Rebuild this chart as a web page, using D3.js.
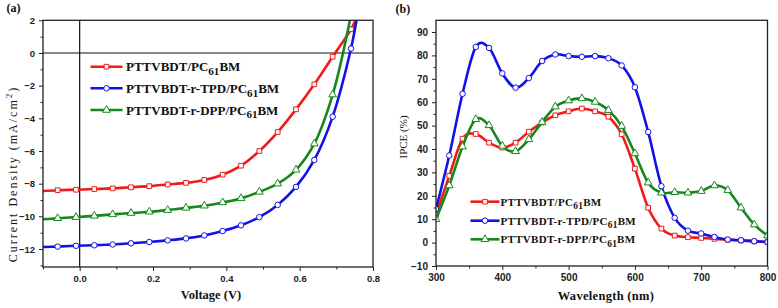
<!DOCTYPE html>
<html lang="en">

<head>
    <meta charset="UTF-8">
    <title>J-V and IPCE</title>
    <script src="https://d3js.org/d3.v7.min.js"></script>
    <style>
        body {
            margin: 0;
            background: #fff;
        }

        svg {
            display: block;
        }

        .tick text {
            font-family: 'Liberation Sans', Arial, sans-serif;
            font-weight: bold;
            font-size: 9.5px;
            fill: #222;
        }

        .tick line {
            stroke: #222;
            stroke-width: 1;
        }

        .domain {
            display: none;
        }

        .frame {
            fill: none;
            stroke: #222;
            stroke-width: 1.3;
        }

        .serif {
            font-family: 'Liberation Serif', 'Times New Roman', serif;
            fill: #111;
        }
    </style>
</head>

<body>
    <svg id="chart" width="778" height="308"></svg>
    <script>
        // ---- data, panel (a): J-V curves ----
        const seriesNames = ["PTTVBDT/PC", "PTTVBDT-r-TPD/PC", "PTTVBDT-r-DPP/PC"];
        const seriesColors = ["#f01a1a", "#1212e8", "#14881c"];
        const seriesSymbols = [d3.symbolSquare, d3.symbolCircle, d3.symbolTriangle];

        const voltage = [-0.06, -0.01, 0.04, 0.09, 0.14, 0.19, 0.24, 0.29, 0.34, 0.39, 0.44, 0.49, 0.54, 0.59, 0.64, 0.69, 0.74];
        const jRed = [-8.40, -8.37, -8.33, -8.29, -8.22, -8.15, -8.05, -7.95, -7.77, -7.45, -6.90, -6.00, -4.84, -3.45, -1.92, -0.23, 1.45];
        const jBlue = [-11.85, -11.80, -11.77, -11.72, -11.65, -11.57, -11.47, -11.35, -11.17, -10.90, -10.55, -10.05, -9.30, -8.20, -6.55, -3.90, 0.27];
        const jGreen = [-10.12, -10.05, -9.97, -9.88, -9.80, -9.72, -9.62, -9.48, -9.35, -9.15, -8.90, -8.50, -8.00, -7.15, -5.55, -2.55];
        // where each curve enters at the left edge and leaves at the top
        const jAtLeftEdge = [-8.45, -11.88, -10.18];
        const vAtTopEdge = [0.752, 0.755, 0.737];

        const vTicks = [0.0, 0.2, 0.4, 0.6, 0.8];
        const vMinor = [-0.1, 0.1, 0.3, 0.5, 0.7];
        const jTicks = [2, 0, -2, -4, -6, -8, -10, -12];
        const jMinor = [1, -1, -3, -5, -7, -9, -11, -13];

        // ---- data, panel (b): IPCE ----
        const wavelength = [300, 320, 340, 360, 380, 400, 420, 440, 460, 480, 500, 520, 540, 560, 580, 600, 620, 640, 660, 680, 700, 720, 740, 760, 780, 800];
        const ipceRed = [12.0, 28.5, 44.4, 46.4, 42.7, 40.6, 42.7, 47.4, 51.3, 54.4, 56.1, 57.3, 56.1, 53.8, 46.3, 31.6, 14.9, 6.0, 3.0, 2.3, 2.0, 1.6, 1.2, 0.9, 0.5, 0.3];
        const ipceBlue = [14.4, 37.2, 63.6, 83.6, 83.2, 72.3, 66.2, 70.3, 77.6, 80.4, 79.7, 79.4, 79.7, 78.8, 75.7, 66.4, 47.3, 24.1, 10.6, 5.1, 3.9, 2.4, 1.3, 1.0, 0.6, 0.2];
        const ipceGreen = [10.0, 24.4, 41.0, 52.7, 50.1, 41.3, 39.0, 44.1, 51.5, 58.1, 60.7, 61.6, 60.1, 56.6, 49.8, 38.1, 25.6, 21.3, 21.5, 21.3, 22.0, 24.4, 22.4, 14.9, 7.7, 3.0];

        const wlTicks = [300, 400, 500, 600, 700, 800];
        const wlMinor = [350, 450, 550, 650, 750];
        const ipceTicks = [-10, 0, 10, 20, 30, 40, 50, 60, 70, 80, 90];
        const ipceMinor = [-5, 5, 15, 25, 35, 45, 55, 65, 75, 85];

        const chart = d3.select("#chart");

        function drawAxes(g, x, y, xt, xm, yt, ym, xFmt) {
            const [x0, x1] = x.range();
            const [y0, y1] = y.range();
            g.append("g").attr("transform", `translate(0,${y0})`)
                .call(d3.axisBottom(x).tickValues(xm).tickSize(2.5).tickFormat(""));
            g.append("g").attr("transform", `translate(0,${y0})`)
                .call(d3.axisBottom(x).tickValues(xt).tickSize(4).tickPadding(4).tickFormat(xFmt));
            g.append("g").attr("transform", `translate(${x0},0)`)
                .call(d3.axisLeft(y).tickValues(ym).tickSize(2.5).tickFormat(""));
            g.append("g").attr("transform", `translate(${x0},0)`)
                .call(d3.axisLeft(y).tickValues(yt).tickSize(4).tickPadding(4).tickFormat(d3.format("d")));
        }

        function drawFrame(g, x, y) {
            g.append("rect").attr("class", "frame")
                .attr("x", x.range()[0]).attr("y", y.range()[1])
                .attr("width", x.range()[1] - x.range()[0])
                .attr("height", y.range()[0] - y.range()[1]);
        }

        function addClip(id, x, y) {
            chart.append("clipPath").attr("id", id).append("rect")
                .attr("x", x.range()[0]).attr("y", y.range()[1])
                .attr("width", x.range()[1] - x.range()[0])
                .attr("height", y.range()[0] - y.range()[1]);
        }

        function legendLabel(sel, name, size) {
            const t = sel.append("text").attr("class", "serif")
                .style("font-weight", "bold").style("font-size", size + "px");
            t.append("tspan").text(name);
            t.append("tspan").attr("dy", size * 0.3).style("font-size", (size * 0.85) + "px").text("61");
            t.append("tspan").attr("dy", -size * 0.3).text("BM");
            return t;
        }

        function drawSeries(g, x, y, linePts, markPts, i, clipId, symSize, curve) {
            const s = g.append("g").attr("clip-path", `url(#${clipId})`);
            s.append("path")
                .datum(linePts)
                .attr("d", d3.line().x(d => x(d[0])).y(d => y(d[1])).curve(curve))
                .attr("fill", "none")
                .attr("stroke", seriesColors[i])
                .attr("stroke-width", 2.6);
            s.selectAll("path.mark")
                .data(markPts)
                .enter()
                .append("path")
                .attr("class", "mark")
                .attr("transform", d => `translate(${x(d[0])},${y(d[1])})`)
                .attr("d", d3.symbol().type(seriesSymbols[i]).size(symSize[i]))
                .attr("fill", "#fff")
                .attr("stroke", seriesColors[i])
                .attr("stroke-width", 1);
        }

        // ================= panel (a) =================
        const xA = d3.scaleLinear().domain([-0.1, 0.8]).range([43, 373]);
        const yA = d3.scaleLinear().domain([-13.1, 2]).range([267, 20.3]);
        const gA = chart.append("g");
        addClip("clipA", xA, yA);

        drawAxes(gA, xA, yA, vTicks, vMinor, jTicks, jMinor, d3.format(".1f"));

        // zero lines
        gA.append("line").attr("x1", xA(-0.1)).attr("x2", xA(0.8)).attr("y1", yA(0)).attr("y2", yA(0))
            .attr("stroke", "#111").attr("stroke-width", 1.2);
        gA.append("line").attr("x1", xA(0)).attr("x2", xA(0)).attr("y1", yA(2)).attr("y2", yA(-13.1))
            .attr("stroke", "#111").attr("stroke-width", 1.2);

        const jvSeries = [jRed, jBlue, jGreen];
        const symA = [22, 24, 26];
        jvSeries.forEach((js, i) => {
            const marks = js.map((j, k) => [voltage[k], j]);
            const pts = [[-0.1, jAtLeftEdge[i]]].concat(marks).concat([[vAtTopEdge[i], 2]]);
            drawSeries(gA, xA, yA, pts, marks, i, "clipA", symA, d3.curveCatmullRom);
        });
        drawFrame(gA, xA, yA);

        // legend (a)
        const legA = gA.append("g");
        const legAY = [66.7, 88.3, 110];
        seriesNames.forEach((name, i) => {
            legA.append("line").attr("x1", 90.5).attr("x2", 122.5).attr("y1", legAY[i]).attr("y2", legAY[i])
                .attr("stroke", seriesColors[i]).attr("stroke-width", 2.6);
            legA.append("path").attr("transform", `translate(106.5,${legAY[i]})`)
                .attr("d", d3.symbol().type(seriesSymbols[i]).size(symA[i]))
                .attr("fill", "#fff").attr("stroke", seriesColors[i]).attr("stroke-width", 1);
            legendLabel(legA, name, 13).attr("x", 126).attr("y", legAY[i] + 4.5);
        });

        // axis titles (a)
        const ylabA = gA.append("text").attr("class", "serif")
            .attr("transform", "translate(17,174) rotate(-90)")
            .attr("text-anchor", "middle")
            .style("font-size", "12px")
            .style("letter-spacing", "2px");
        ylabA.append("tspan").text("Current Density (mA/cm");
        ylabA.append("tspan").attr("dy", -5).style("font-size", "9px").text("2");
        ylabA.append("tspan").attr("dy", 5).text(")");

        gA.append("text").attr("class", "serif")
            .attr("x", 211).attr("y", 298.5).attr("text-anchor", "middle")
            .style("font-weight", "bold").style("font-size", "12.5px")
            .text("Voltage (V)");

        gA.append("text").attr("class", "serif")
            .attr("x", 6.5).attr("y", 11.5)
            .style("font-weight", "bold").style("font-size", "12px")
            .text("(a)");

        // ================= panel (b) =================
        const xB = d3.scaleLinear().domain([300, 800]).range([436, 767.5]);
        const yB = d3.scaleLinear().domain([-10, 95]).range([266, 20.3]);
        const gB = chart.append("g");
        addClip("clipB", xB, yB);

        drawAxes(gB, xB, yB, wlTicks, wlMinor, ipceTicks, ipceMinor, d3.format("d"));
        gB.selectAll(".tick text").style("font-size", "10px");

        const ipceSeries = [ipceRed, ipceBlue, ipceGreen];
        const symB = [22, 24, 26];
        ipceSeries.forEach((vals, i) => {
            const pts = vals.map((v, k) => [wavelength[k], v]);
            drawSeries(gB, xB, yB, pts, pts, i, "clipB", symB, d3.curveCatmullRom.alpha(0));
        });
        drawFrame(gB, xB, yB);

        // legend (b)
        const legB = gB.append("g");
        const legBY = [201.7, 220.7, 239.3];
        seriesNames.forEach((name, i) => {
            legB.append("line").attr("x1", 470.5).attr("x2", 499.5).attr("y1", legBY[i]).attr("y2", legBY[i])
                .attr("stroke", seriesColors[i]).attr("stroke-width", 2.6);
            legB.append("path").attr("transform", `translate(485,${legBY[i]})`)
                .attr("d", d3.symbol().type(seriesSymbols[i]).size(symB[i]))
                .attr("fill", "#fff").attr("stroke", seriesColors[i]).attr("stroke-width", 1);
            legendLabel(legB, name, 11).attr("x", 500.5).attr("y", legBY[i] + 4)
                .style("letter-spacing", "0.3px");
        });

        gB.append("text").attr("class", "serif")
            .attr("transform", "translate(407,137) rotate(-90)")
            .attr("text-anchor", "middle")
            .style("font-size", "11px")
            .text("IPCE (%)");

        gB.append("text").attr("class", "serif")
            .attr("x", 606).attr("y", 300).attr("text-anchor", "middle")
            .style("font-weight", "bold").style("font-size", "12.5px")
            .style("letter-spacing", "0.3px")
            .text("Wavelength (nm)");

        gB.append("text").attr("class", "serif")
            .attr("x", 395.5).attr("y", 13)
            .style("font-weight", "bold").style("font-size", "12px")
            .text("(b)");
    </script>
</body>

</html>
